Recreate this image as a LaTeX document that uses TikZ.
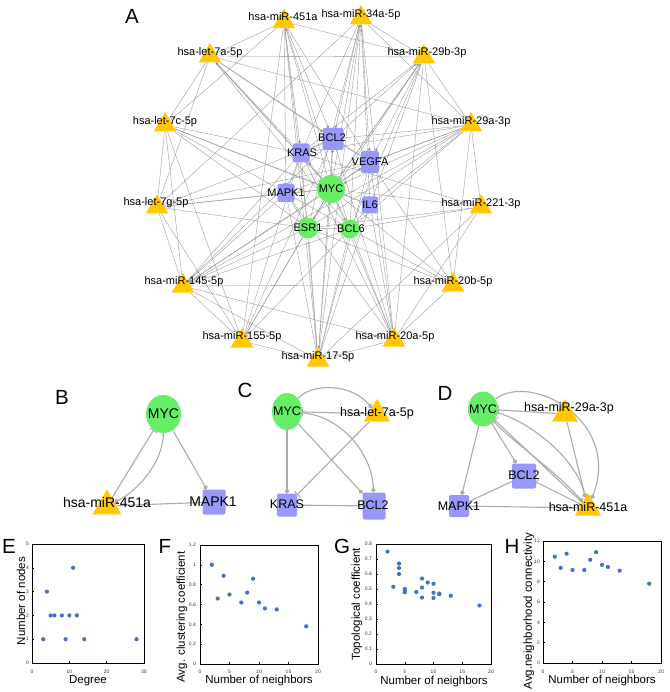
\documentclass[tikz,border=0pt]{standalone}
\usepackage{fontspec}
\setmainfont{Liberation Sans}
\usetikzlibrary{shapes.geometric,arrows.meta}
\definecolor{gold}{RGB}{255,200,0}
\definecolor{lav}{RGB}{152,152,250}
\definecolor{grn}{RGB}{102,238,102}
\definecolor{dotc}{RGB}{68,114,196}
\definecolor{edgeA}{RGB}{150,150,150}
\definecolor{edgeB}{RGB}{172,172,172}
\pgfdeclarelayer{bgzero}
\pgfdeclarelayer{edges}
\pgfsetlayers{bgzero,edges,main}
\begin{document}
\begin{tikzpicture}[x=1pt,y=-1pt,
  tri/.style={regular polygon, regular polygon sides=3, fill=gold, draw=none, inner sep=0pt, minimum size=26pt},
  gsq/.style={rectangle, rounded corners=2pt, fill=lav, inner sep=0pt},
  gci/.style={circle, fill=grn, inner sep=0pt},
  gel/.style={ellipse, fill=grn, inner sep=0pt},
  labA/.style={font=\fontsize{11}{13}\selectfont, inner sep=0pt},
  labB/.style={font=\fontsize{14}{16}\selectfont, inner sep=0pt},
  labC/.style={font=\fontsize{12.5}{14}\selectfont, inner sep=0pt},
  plet/.style={font=\fontsize{20.5}{23}\selectfont, inner sep=0pt},
  eA/.style={draw=edgeA, line width=0.35pt},
  dA/.style={eA, -{Circle[length=2.6pt]}},
  tA/.style={eA, -{Bar[width=5pt]}},
  eB/.style={draw=edgeB, line width=1.1pt},
  dB/.style={eB, -{Circle[length=4.5pt]}},
  tB/.style={eB, -{Bar[width=9pt,line width=0.9pt]}},
  tick/.style={font=\fontsize{5}{6}\selectfont, inner sep=0pt, text=black!80},
  axl/.style={font=\fontsize{11.5}{13}\selectfont, inner sep=0pt},
  frame/.style={draw=black, line width=0.9pt},
  sdot/.style={fill=dotc}
]
\begin{pgfonlayer}{bgzero}
\fill[white] (0,0) rectangle (669,692);
\end{pgfonlayer}
\useasboundingbox (0,0) rectangle (669,692);

% ================= Panel A =================
\node[plet] (LA) at (132,16) {A};
% genes
\node[gci, minimum size=28pt] (MYC) at (331,189) {};
\node[gsq, minimum width=21pt, minimum height=22pt] (BCL2) at (333,139) {};
\node[gsq, minimum width=17pt, minimum height=19pt] (KRAS) at (301,153) {};
\node[gsq, minimum width=18pt, minimum height=22pt] (VEGFA) at (370,162) {};
\node[gsq, minimum width=17pt, minimum height=18pt] (MAPK1) at (286,193) {};
\node[gsq, minimum width=16pt, minimum height=17pt] (IL6) at (370,205) {};
\node[gci, minimum size=21pt] (ESR1) at (308,228) {};
\node[gci, minimum size=19pt] (BCL6) at (350,229) {};
% miRNAs
\node[tri] (m451) at (284,21.6) {};
\node[tri] (m34) at (361,18) {};
\node[tri] (l7a) at (210,56) {};
\node[tri] (m29b) at (424,57) {};
\node[tri] (l7c) at (165,125) {};
\node[tri] (m29a) at (471,125) {};
\node[tri] (l7g) at (157,207) {};
\node[tri] (m221) at (481,207) {};
\node[tri] (m145) at (183,286) {};
\node[tri] (m20b) at (453,285) {};
\node[tri] (m155) at (242,341) {};
\node[tri] (m20a) at (394,340) {};
\node[tri] (m17) at (318,360) {};
% labels
\node[labA] (MYCt) at (331,189) {MYC};
\node[labA] (BCL2t) at (332,138) {BCL2};
\node[labA] (KRASt) at (302,153) {KRAS};
\node[labA] (VEGFAt) at (370,162) {VEGFA};
\node[labA] (MAPK1t) at (286,193) {MAPK1};
\node[labA] (IL6t) at (370,205) {IL6};
\node[labA] (ESR1t) at (308,228) {ESR1};
\node[labA] (BCL6t) at (351,229) {BCL6};
\node[labA] (m451t) at (283,17) {hsa-miR-451a};
\node[labA] (m34t) at (361,15) {hsa-miR-34a-5p};
\node[labA] (l7at) at (210,53) {hsa-let-7a-5p};
\node[labA] (m29bt) at (427,53) {hsa-miR-29b-3p};
\node[labA] (l7ct) at (165,122) {hsa-let-7c-5p};
\node[labA] (m29at) at (471,122) {hsa-miR-29a-3p};
\node[labA] (l7gt) at (156,203) {hsa-let-7g-5p};
\node[labA] (m221t) at (481,204) {hsa-miR-221-3p};
\node[labA] (m145t) at (184,282) {hsa-miR-145-5p};
\node[labA] (m20bt) at (453,282) {hsa-miR-20b-5p};
\node[labA] (m155t) at (242,337) {hsa-miR-155-5p};
\node[labA] (m20at) at (395,337) {hsa-miR-20a-5p};
\node[labA] (m17t) at (318,357) {hsa-miR-17-5p};

\begin{pgfonlayer}{edges}
% gene-gene
\foreach \a/\b/\s in {MYC/BCL2/dA, MYC/KRAS/dA, MYC/VEGFA/dA, MYC/MAPK1/tA, MYC/IL6/tA, MYC/ESR1/dA, MYC/BCL6/dA,
  VEGFA/BCL2/eA, KRAS/BCL2/eA, ESR1/BCL6/eA, MAPK1/ESR1/eA, IL6/BCL6/eA, KRAS/MAPK1/eA}
  \draw[\s] (\a) -- (\b);
% gene -> miRNA (dot at miRNA)
\foreach \a/\b in {MYC/m451, MYC/m34, MYC/l7a, MYC/m29b, MYC/m145, MYC/m155, MYC/m17, MYC/m20a, BCL2/m29b, KRAS/l7a}
  \draw[dA] (\a) -- (\b);
% miRNA -> gene
\foreach \a/\b/\s in {
  m451/BCL2/dA, m451/KRAS/dA, m451/MAPK1/tA, m451/ESR1/eA, m451/BCL6/eA, m451/VEGFA/eA,
  m34/BCL2/dA, m34/VEGFA/dA, m34/IL6/eA, m34/ESR1/eA, m34/BCL6/eA, m34/KRAS/eA,
  l7a/MYC/eA, l7a/BCL2/dA, l7a/BCL6/eA, l7a/VEGFA/eA,
  m29b/MYC/tA, m29b/VEGFA/dA, m29b/KRAS/eA, m29b/IL6/eA, m29b/ESR1/eA, m29b/BCL6/eA,
  l7c/MYC/eA, l7c/KRAS/eA, l7c/BCL6/eA, l7c/ESR1/eA, l7c/IL6/eA,
  m29a/MYC/dA, m29a/BCL2/eA, m29a/VEGFA/dA, m29a/IL6/eA, m29a/MAPK1/eA, m29a/ESR1/eA, m29a/BCL6/eA, m29a/KRAS/eA,
  l7g/MYC/eA, l7g/MAPK1/eA, l7g/BCL2/eA, l7g/VEGFA/eA, l7g/ESR1/eA,
  m221/MYC/eA, m221/ESR1/eA, m221/BCL6/eA, m221/KRAS/eA,
  m145/ESR1/eA, m145/BCL6/eA, m145/KRAS/eA, m145/BCL2/eA, m145/VEGFA/eA, m145/MAPK1/eA,
  m20b/MYC/eA, m20b/BCL6/eA, m20b/ESR1/eA, m20b/VEGFA/eA,
  m155/BCL6/eA, m155/KRAS/eA, m155/ESR1/eA, m155/BCL2/eA,
  m20a/BCL2/eA, m20a/VEGFA/eA, m20a/IL6/eA, m20a/MAPK1/eA, m20a/BCL6/eA, m20a/KRAS/eA,
  m17/BCL2/dA, m17/ESR1/eA, m17/BCL6/eA, m17/IL6/eA, m17/MAPK1/eA, m17/VEGFA/eA, m17/KRAS/eA}
  \draw[\s] (\a) -- (\b);
% miRNA - miRNA
\foreach \a/\b in {l7a/m29b, m145/m20b, l7a/l7c, l7a/l7g, l7c/l7g, l7c/m145, l7g/m145, l7g/m155, m145/m155,
  m145/m17, m145/m20a, m155/m17, m17/m20a, m20a/m20b, m20b/m29a, m29a/m221, m29b/m29a, m29b/m20a,
  m34/m29b, m34/m29a, m451/m29b, m451/l7a, m451/l7c, m34/m20a, m451/m155, m29a/m145, m221/m20a,
  l7a/m29a, m34/l7g, m29b/m20b, m221/m17, l7c/m155, m451/m17, m34/m17}
  \draw[eA] (\a) -- (\b);
\end{pgfonlayer}

% ================= Panel B =================
\node[plet] (LB) at (62,397) {B};
\node[gel, minimum width=35pt, minimum height=38pt] (bMYC) at (163.5,414) {};
\node[tri, minimum size=33pt] (b451) at (107,506) {};
\node[gsq, minimum width=23pt, minimum height=25pt] (bMAPK1) at (214,502) {};
\node[labB] (bMYCt) at (163.5,414) {MYC};
\node[labB] (b451t) at (107,502) {hsa-miR-451a};
\node[labB] (bMAPK1t) at (213,502) {MAPK1};
\begin{pgfonlayer}{edges}
\draw[dB] (bMYC) -- (bMAPK1);
\draw[tB] (b451) -- (bMYC);
\draw[dB] (bMYC) .. controls (163,465) and (135,492) .. (b451);
\draw[eB] (b451) -- (bMAPK1);
\end{pgfonlayer}

% ================= Panel C =================
\node[plet] (LC) at (245,390) {C};
\node[gel, minimum width=30pt, minimum height=37pt] (cMYC) at (287,411.5) {};
\node[tri, minimum size=30pt] (c7a) at (377,414) {};
\node[gsq, minimum width=20pt, minimum height=23pt] (cKRAS) at (287,505) {};
\node[gsq, minimum width=23pt, minimum height=27pt] (cBCL2) at (374,506) {};
\node[labC] (cMYCt) at (287,411.5) {MYC};
\node[labC] (c7at) at (377,413) {hsa-let-7a-5p};
\node[labC] (cKRASt) at (287,504) {KRAS};
\node[labC] (cBCL2t) at (373,505) {BCL2};
\begin{pgfonlayer}{edges}
\draw[tB] (c7a) -- (cMYC);
\draw[dB] (cMYC) .. controls (310,384) and (350,382) .. (c7a);
\draw[dB] (cMYC) -- (cKRAS);
\draw[tB] (c7a) -- (cKRAS);
\draw[eB] (cKRAS) -- (cBCL2);
\draw[dB] (cMYC) -- (cBCL2);
\draw[dB] (cMYC) .. controls (340,416) and (372,452) .. (cBCL2);
\end{pgfonlayer}

% ================= Panel D =================
\node[plet] (LD) at (445,393) {D};
\node[gel, minimum width=30pt, minimum height=35pt] (dMYC) at (483,409) {};
\node[tri, minimum size=30pt] (d29a) at (565,414) {};
\node[gsq, minimum width=24pt, minimum height=25pt] (dBCL2) at (524,476) {};
\node[gsq, minimum width=20pt, minimum height=22pt] (dMAPK1) at (459,506) {};
\node[tri, minimum size=30pt] (d451) at (588,508) {};
\node[labC] (dMYCt) at (483,409) {MYC};
\node[labC] (d29at) at (569,408) {hsa-miR-29a-3p};
\node[labC] (dBCL2t) at (524,475) {BCL2};
\node[labC] (dMAPK1t) at (459,506) {MAPK1};
\node[labC] (d451t) at (588,507) {hsa-miR-451a};
\begin{pgfonlayer}{edges}
\draw[tB] (d29a) -- (dMYC);
\draw[dB] (dMYC) -- (dMAPK1);
\draw[dB] (dMYC) -- (dBCL2);
\draw[eB] (dMAPK1) -- (dBCL2);
\draw[eB] (dMAPK1) -- (d451);
\draw[tB] (d451) -- (dBCL2);
\draw[tB] (d451) -- (dMYC);
\draw[dB] (dMYC) .. controls (510,440) and (555,470) .. (d451);
\draw[dB] (dMYC) .. controls (525,420) and (575,455) .. (d451);
\draw[dB] (dMYC) .. controls (530,372) and (622,420) .. (d451);
\draw[dB] (d29a) -- (d451);
\end{pgfonlayer}

% ================= Panel E =================
\node[plet] (LE) at (9,546) {E};
\draw[frame] (32,544) rectangle (144,663);
\foreach \i in {0,1,...,5} {
  \draw[line width=0.5pt] (32,{663-\i*23.8}) -- (34,{663-\i*23.8});
  \node[tick, anchor=east] (ey\i) at (29,{663-\i*23.8}) {\i};
}
\foreach \i in {0,10,20,30} {
  \draw[line width=0.5pt] ({32+\i*3.733},663) -- ({32+\i*3.733},661);
  \node[tick] (ex\i) at ({32+\i*3.733},672) {\i};
}
\foreach \a/\b in {3/1,4/3,5/2,6/2,8/2,9/1,10/2,11/4,12/2,14/1,28/1}
  \fill[sdot] ({32+\a*3.733},{663-\b*23.8}) circle (2.1);
\node[axl] (exl) at (88,681) {Degree};
\node[axl, rotate=90] (eyl) at (21,601) {Number of nodes};

% ================= Panel F =================
\node[plet] (LF) at (165,546) {F};
\draw[frame] (200,545) rectangle (318,664);
\foreach \v/\t [count=\n] in {0/0,0.2/0.2,0.4/0.4,0.6/0.6,0.8/0.8,1/1,1.2/1.2} {
  \draw[line width=0.5pt] (200,{664-\v*99.2}) -- (202,{664-\v*99.2});
  \node[tick, anchor=east] (fy\n) at (196,{664-\v*99.2}) {\t};
}
\foreach \i in {0,5,10,15,20} {
  \draw[line width=0.5pt] ({200+\i*5.9},664) -- ({200+\i*5.9},662);
  \node[tick] (fx\i) at ({200+\i*5.9},672) {\i};
}
\foreach \a/\b in {2/1,3/0.66,4/0.89,5/0.70,7/0.62,8/0.72,9/0.86,10/0.62,11/0.56,13/0.55,18/0.38}
  \fill[sdot] ({200+\a*5.9},{664-\b*99.2}) circle (2.1);
\node[axl] (fxl) at (259,681) {Number of neighbors};
\node[axl, rotate=90] (fyl) at (182,617) {Avg. clustering coefficient};

% ================= Panel G =================
\node[plet] (LG) at (342,546) {G};
\draw[frame] (376,544) rectangle (491,664);
\foreach \v/\t [count=\n] in {0/0,0.1/0.1,0.2/0.2,0.3/0.3,0.4/0.4,0.5/0.5,0.6/0.6,0.7/0.7,0.8/0.8} {
  \draw[line width=0.5pt] (376,{664-\v*150}) -- (378,{664-\v*150});
  \node[tick, anchor=east] (gy\n) at (372,{664-\v*150}) {\t};
}
\foreach \i in {0,5,10,15,20} {
  \draw[line width=0.5pt] ({376+\i*5.75},664) -- ({376+\i*5.75},662);
  \node[tick] (gx\i) at ({376+\i*5.75},672) {\i};
}
\foreach \a/\b in {2/0.75,3/0.515,4/0.67,4/0.64,4/0.6,5/0.5,5/0.49,5/0.478,7/0.48,8/0.57,8/0.51,8/0.443,
  9/0.543,10/0.535,10/0.475,10/0.44,11/0.47,11/0.465,13/0.455,18/0.39}
  \fill[sdot] ({376+\a*5.75},{664-\b*150}) circle (2.1);
\node[axl] (gxl) at (434,682) {Number of neighbors};
\node[axl, rotate=90] (gyl) at (357,604) {Topological coefficient};

% ================= Panel H =================
\node[plet] (LH) at (512,546) {H};
\draw[frame] (543,541) rectangle (661,663);
\foreach \i in {0,2,4,6,8,10,12} {
  \draw[line width=0.5pt] (543,{663-\i*10.17}) -- (545,{663-\i*10.17});
  \node[tick, anchor=east] (hy\i) at (540,{663-\i*10.17}) {\i};
}
\foreach \i in {0,5,10,15,20} {
  \draw[line width=0.5pt] ({543+\i*5.9},663) -- ({543+\i*5.9},661);
  \node[tick] (hx\i) at ({543+\i*5.9},672) {\i};
}
\foreach \a/\b in {2/10.45,3/9.35,4/10.75,5/9.15,7/9.15,8/10.15,9/10.9,10/9.65,11/9.45,13/9.08,18/7.8}
  \fill[sdot] ({543+\a*5.9},{663-\b*10.17}) circle (2.1);
\node[axl] (hxl) at (602,681) {Number of neighbors};
\node[axl, rotate=90] (hyl) at (529,611) {Avg.neighborhood connectivity};
\end{tikzpicture}
\end{document}
